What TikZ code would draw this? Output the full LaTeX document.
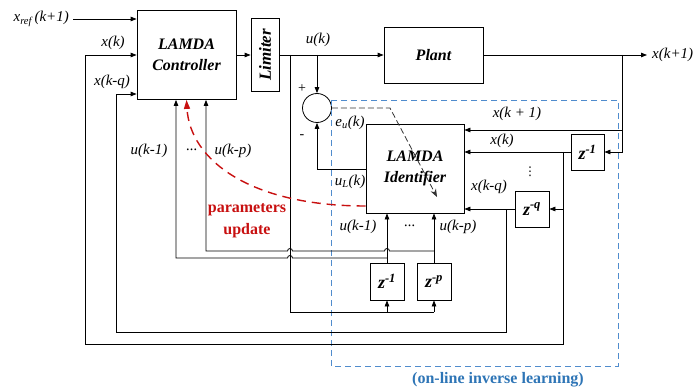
\documentclass[tikz,border=0pt]{standalone}
\usepackage{fontspec}
\setmainfont{Liberation Serif}
\newfontfamily\dejavu{DejaVu Sans}
\usetikzlibrary{arrows.meta,shadows,calc}
\definecolor{upd}{RGB}{200,16,16}
\definecolor{lrn}{RGB}{46,117,182}
\definecolor{lrnline}{RGB}{80,140,205}
\begin{document}
\begin{tikzpicture}[x=1pt,y=-1pt,
  every node/.style={inner sep=0pt},
  blk/.style={draw, line width=0.8pt, fill=white,
    drop shadow={shadow xshift=1pt,shadow yshift=-1pt,opacity=0.25},
    font=\fontsize{16}{21}\selectfont\bfseries\itshape, align=center},
  zblk/.style={blk, font=\fontsize{18}{21}\selectfont\bfseries\itshape},
  wire/.style={line width=0.8pt},
  arr/.style={wire,-{Triangle[length=6pt,width=4.5pt]}},
  lbl/.style={font=\fontsize{15}{18}\selectfont\itshape},
]
\useasboundingbox (0,0) rectangle (700,390);

% blocks
\node[blk, minimum width=99pt, minimum height=89pt] (ctrl) at (186.5,55) {LAMDA\\Controller};
\node[blk, minimum width=28pt, minimum height=73pt] (lim) at (265,55) {\fontsize{17}{20}\selectfont\rotatebox{90}{Limiter}};
\node[blk, minimum width=99pt, minimum height=56pt] (plant) at (433.5,55) {Plant};
\node[blk, minimum width=98pt, minimum height=89pt] (ident) at (415,168.5) {LAMDA\\Identifier};
\node[zblk, minimum width=33pt, minimum height=36pt] (zr1) at (587.5,152) {z\textsuperscript{-1}};
\node[zblk, minimum width=34pt, minimum height=36pt] (zq) at (532,209) {z\textsuperscript{-q}};
\node[zblk, minimum width=34pt, minimum height=37pt] (za) at (387,281.5) {z\textsuperscript{-1}};
\node[zblk, minimum width=34pt, minimum height=37pt] (zp) at (434,281.5) {z\textsuperscript{-p}};
\node[draw, circle, line width=0.8pt, minimum size=29pt] (sum) at (317,108) {};

% learning region
\draw[lrnline, line width=0.8pt, dash pattern=on 6pt off 4pt] (331,100) rectangle (618,366);
\node[font=\fontsize{16}{19}\selectfont\bfseries, text=lrn] (lrnlbl) at (498,380) {(on-line inverse learning)};

% coordinates
\coordinate (xin) at (73,19);
\coordinate (ju) at (290,55);
\coordinate (js) at (317,55);
\coordinate (jo) at (622,55);
\coordinate (xout) at (647,55);
\coordinate (jxk) at (563,152);
\coordinate (jxq) at (506,209);

% reference input
\draw[arr] (xin) -- (ctrl.west |- xin);
\node[lbl, anchor=east] (xreflbl) at (69,19) {x\textsubscript{ref}\,(k+1)};

% forward path
\draw[arr] (ctrl.east) -- (lim.west);
\draw[arr] (lim.east) -- (plant.west);
\draw[arr] (plant.east) -- (xout);
\node[lbl, anchor=west] (xoutlbl) at (652,55) {x(k+1)};
\node[lbl] (ulbl) at (318,40) {u(k)};

% plant output feedback
\draw[arr] (jo) -- (jo |- zr1.east) -- (zr1.east);
\draw[arr] (jo |- 0,130) -- (ident.east |- 0,130);
\draw[arr] (zr1.west) -- (ident.east |- zr1.west);
\draw[arr] (jxk |- zq.east) -- (zq.east);
\draw[arr] (zq.west) -- (ident.east |- zq.west);

% x(k), x(k-q) to controller
\draw[arr] (jxk) -- (563,344) -- (85,344) -- (85,55) -- (ctrl.west);
\draw[arr] (jxq) -- (506,332) -- (116,332) -- (116,94) -- (ctrl.west |- 0,94);
\node[lbl] (xklbl) at (113,43) {x(k)};
\node[lbl] (xkqlbl) at (112,82) {x(k-q)};

% identifier labels
\node[lbl] (xk1ilbl) at (517,114) {x(k + 1)};
\node[lbl] (xkilbl) at (502,141) {x(k)};
\node[lbl] (xkqilbl) at (489,187) {x(k-q)};
\node[font=\fontsize{12}{12}\selectfont\dejavu] (vdots) at (530,172) {⋮};

% summing junction
\draw[arr] (js) -- (sum.north);
\node[font=\fontsize{14}{14}\selectfont] (plus) at (302,89) {+};
\node[font=\fontsize{14}{14}\selectfont] (minus) at (302,137) {-};
\draw[arr] (ident.west |- 0,169) -- (317,169) -- (sum.south);
\node[lbl] (eulbl) at (350,123) {e\textsubscript{u}(k)};
\node[lbl] (ullbl) at (350,182) {u\textsubscript{L}(k)};
\draw[line width=0.8pt, dash pattern=on 6pt off 3pt, black!80, -{Stealth[length=8pt,width=6pt]}] (sum.east) -- (390,108) -- (437,197);

% delayed u
\draw[wire] (ju) -- (290,312) -- (434,312);
\draw[arr] (za.south |- 0,312) -- (za.south);
\draw[arr] (zp.south |- 0,312) -- (zp.south);
\draw[arr] (za.north) -- (ident.south -| za.north);
\draw[arr] (zp.north) -- (ident.south -| zp.north);
\draw[arr] (387,258) -- (292.5,258) arc[start angle=0,end angle=180,radius=2.5pt] -- (176,258) -- (ctrl.south -| 176,0);
\draw[arr] (434,251) -- (389.5,251) arc[start angle=0,end angle=180,radius=2.5pt] -- (292.5,251) arc[start angle=0,end angle=180,radius=2.5pt] -- (206,251) -- (ctrl.south -| 206,0);

\node[lbl] (uk1c) at (149,151) {u(k-1)};
\node[lbl] (dotc) at (192,150) {...};
\node[lbl] (ukpc) at (233,151) {u(k-p)};
\node[lbl] (uk1i) at (358,227) {u(k-1)};
\node[lbl] (doti) at (410,226) {...};
\node[lbl] (ukpi) at (458,227) {u(k-p)};

% parameters update
\draw[upd, line width=1.4pt, dash pattern=on 9pt off 6pt, -{Triangle[length=9pt,width=6pt]}] (ident.west |- 0,206) .. controls (250,206) and (190,160) .. (ctrl.south);
\node[font=\fontsize{16}{22}\selectfont\bfseries, text=upd, align=center] (updlbl) at (247,221) {parameters\\update};
\end{tikzpicture}
\end{document}
